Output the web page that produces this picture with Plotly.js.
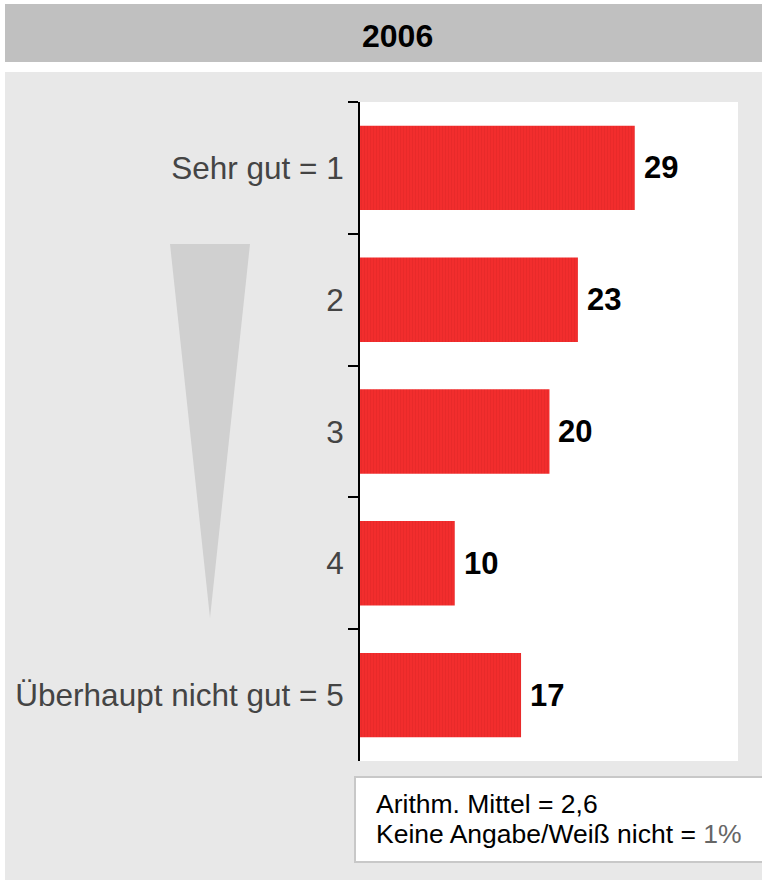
<!DOCTYPE html>
<html>
<head>
<meta charset="utf-8">
<script src="https://cdn.plot.ly/plotly-3.0.1.min.js"></script>
<style>
  html, body { margin: 0; padding: 0; background: #ffffff; }
  #chart { width: 762px; height: 880px; }
</style>
</head>
<body>
<div id="chart"></div>
<script>
// Chart data
const yearTitle = '2006';
const categories = ['Sehr gut = 1', '2', '3', '4', 'Überhaupt nicht gut = 5'];
const values = [29, 23, 20, 10, 17];
const meanText = 'Arithm. Mittel = 2,6';
const noAnswerLabel = 'Keine Angabe/Weiß nicht = ';
const noAnswerValue = 1;

const font = 'Liberation Sans, Arial, sans-serif';

// Plot area in pixels: x 360..738, y 102..761
const L = 360, R = 738, T = 102, B = 761;
const px = x => (x - L) / (R - L);
const py = y => (B - y) / (B - T);

const trace = {
    type: 'bar',
    orientation: 'h',
    y: categories,
    x: values,
    marker: {
        color: '#f22d2d',
        line: { width: 0 },
        pattern: { shape: '|', fillmode: 'overlay', bgcolor: '#f22d2d',
                   fgcolor: '#dc2626', size: 3, solidity: 0.3 }
    },
    hoverinfo: 'none'
};

// Value labels next to the bars (y given as category index)
const valueNotes = values.map((v, i) => ({
    x: v, y: i, xref: 'x', yref: 'y',
    text: String(v), showarrow: false,
    xanchor: 'left', yanchor: 'middle', xshift: 7,
    font: { family: font, size: 31, color: '#000000', weight: 'bold' }
}));

const layout = {
    width: 762,
    height: 880,
    margin: { l: L, r: 762 - R, t: T, b: 880 - B },
    paper_bgcolor: '#ffffff',
    plot_bgcolor: '#ffffff',
    showlegend: false,
    bargap: 0.36,
    font: { family: font },
    xaxis: {
        range: [0, 39.9],
        visible: false,
        fixedrange: true
    },
    yaxis: {
        type: 'category',
        range: [4.5, -0.5],
        showline: true,
        linecolor: '#000000',
        linewidth: 2,
        ticks: 'outside',
        tickson: 'boundaries',
        ticklen: 10,
        tickwidth: 2,
        tickcolor: '#000000',
        showgrid: false,
        zeroline: false,
        ticklabelstandoff: 8,
        tickfont: { family: font, size: 31.5, color: '#444444' },
        fixedrange: true
    },
    shapes: [
        // title band
        { type: 'rect', xref: 'paper', yref: 'paper', layer: 'below',
          x0: px(5), x1: px(770), y0: py(62), y1: py(4),
          fillcolor: '#c0c0c0', line: { width: 0 } },
        // light grey panel
        { type: 'rect', xref: 'paper', yref: 'paper', layer: 'below',
          x0: px(5), x1: px(770), y0: py(890), y1: py(72),
          fillcolor: '#e8e8e8', line: { width: 0 } },
        // white plot area
        { type: 'rect', xref: 'paper', yref: 'paper', layer: 'below',
          x0: 0, x1: 1, y0: 0, y1: 1,
          fillcolor: '#ffffff', line: { width: 0 } },
        // grey wedge
        { type: 'path', xref: 'paper', yref: 'paper', layer: 'below',
          path: 'M ' + px(170) + ' ' + py(244) + ' L ' + px(250) + ' ' + py(244) +
                ' L ' + px(210) + ' ' + py(618) + ' Z',
          fillcolor: '#d0d0d0', line: { width: 0 } },
        // info box
        { type: 'rect', xref: 'paper', yref: 'paper', layer: 'above',
          x0: px(355), x1: px(775), y0: py(862), y1: py(777),
          fillcolor: '#ffffff', line: { color: '#c8c8c8', width: 2 } }
    ],
    annotations: [
        { x: px(397), y: py(36), xref: 'paper', yref: 'paper',
          text: yearTitle, showarrow: false, xanchor: 'center', yanchor: 'middle',
          font: { family: font, size: 32, color: '#000000', weight: 'bold' } },
        { x: px(374), y: py(804), xref: 'paper', yref: 'paper',
          text: meanText, showarrow: false, xanchor: 'left', yanchor: 'middle',
          font: { family: font, size: 26.5, color: '#000000' } },
        { x: px(374), y: py(834), xref: 'paper', yref: 'paper',
          text: noAnswerLabel + '<span style="color:#666666">' + noAnswerValue + '%</span>',
          showarrow: false, xanchor: 'left', yanchor: 'middle',
          font: { family: font, size: 26.5, color: '#000000' } }
    ].concat(valueNotes)
};

Plotly.newPlot('chart', [trace], layout, { displayModeBar: false, staticPlot: true });
</script>
</body>
</html>
